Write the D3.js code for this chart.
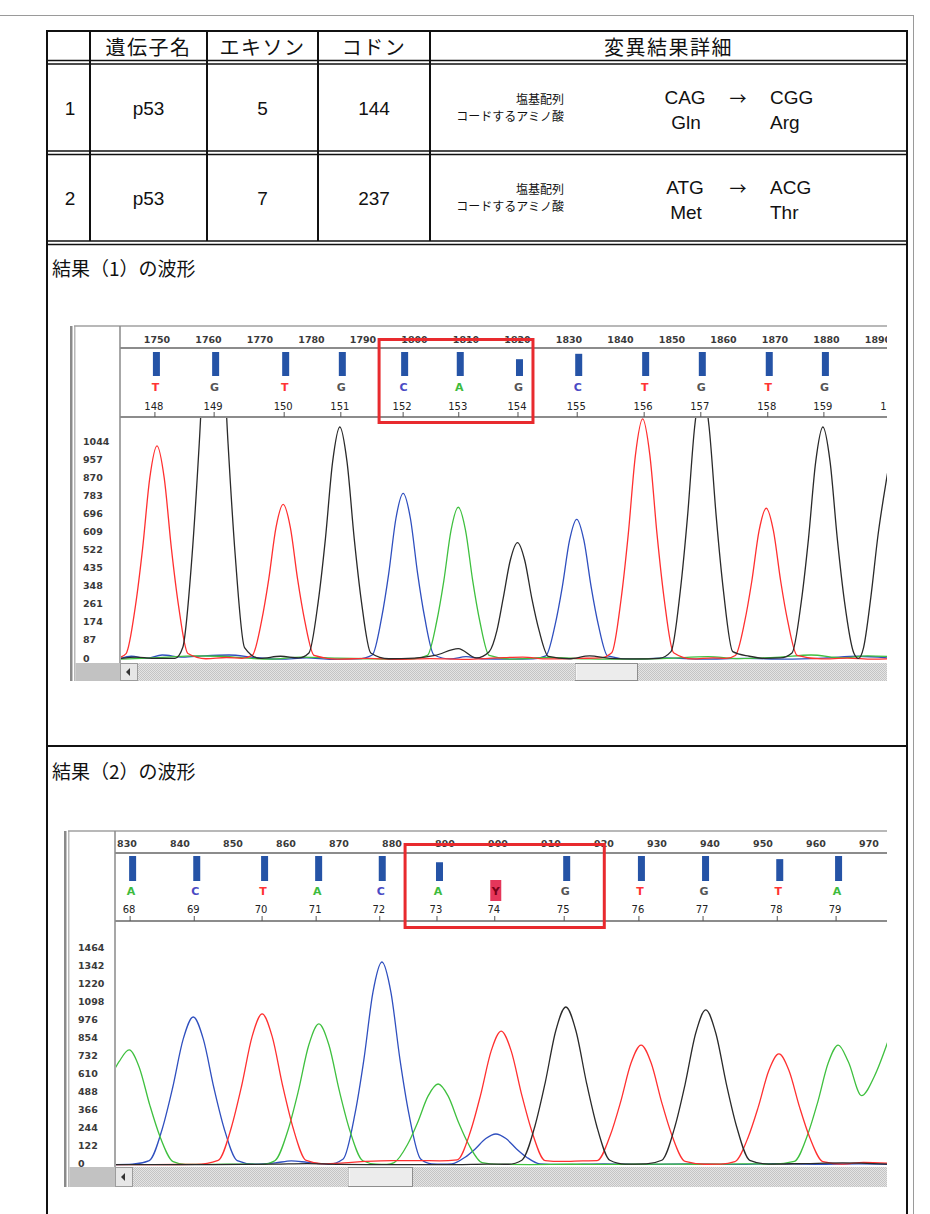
<!DOCTYPE html>
<html>
<head>
<meta charset="utf-8">
<script src="https://cdn.jsdelivr.net/npm/d3@7"></script>
<style>
  html, body { margin: 0; padding: 0; background: #fff; }
  svg { display: block; }
</style>
</head>
<body>
<svg id="sheet" width="930" height="1214"></svg>
<script>
// ---------- table contents ----------
const tableHeaders = ["", "遺伝子名", "エキソン", "コドン", "変異結果詳細"];
const rowNumbers = ["1", "2"];
const geneNames = ["p53", "p53"];
const exonNumbers = ["5", "7"];
const codonNumbers = ["144", "237"];
const baseBefore = ["CAG", "ATG"];
const baseAfter = ["CGG", "ACG"];
const aminoBefore = ["Gln", "Met"];
const aminoAfter = ["Arg", "Thr"];
const detailLabels = ["塩基配列", "コードするアミノ酸"];
const sectionTitles = ["結果（1）の波形", "結果（2）の波形"];

// ---------- chromatogram 1 (codons 148-160) ----------
const scanTicks1 = [1750, 1760, 1770, 1780, 1790, 1800, 1810, 1820, 1830, 1840, 1850, 1860, 1870, 1880, 1890];
const intensityTicks1 = [0, 87, 174, 261, 348, 435, 522, 609, 696, 783, 870, 957, 1044];
const baseNumbers1 = [148, 149, 150, 151, 152, 153, 154, 155, 156, 157, 158, 159, 160];
const baseLetters1 = ["T", "G", "T", "G", "C", "A", "G", "C", "T", "G", "T", "G", ""];
const baseScans1 = [1749.4, 1760.9, 1774.5, 1785.5, 1797.6, 1808.4, 1819.9, 1831.4, 1844.4, 1855.4, 1868.4, 1879.3, 1892.3];
const baseQuality1 = [40, 40, 40, 40, 40, 40, 28, 37, 40, 40, 40, 40, 0];
const marked1 = [152, 154];

const traceT1 = [
  [1742.5, 10], [1744, 31], [1745.8, 258], [1747.2, 536], [1748.6, 876], [1750, 1030], [1751.4, 876], [1752.8, 536], [1754.2, 258], [1756, 31],
  [1759.5, 6], [1763.5, 12], [1766.5, 8],
  [1768.5, 22], [1770.3, 187], [1771.7, 389], [1773.1, 637], [1774.5, 749], [1775.9, 637], [1777.3, 389], [1778.7, 187], [1780.5, 22],
  [1785, 4], [1791, 8], [1797, 3], [1803, 7], [1810, 3], [1816, 10], [1821, 14], [1826, 5], [1832, 8], [1836, 10],
  [1838.3, 35], [1840.1, 290], [1841.5, 603], [1842.9, 986], [1844.3, 1160], [1845.7, 986], [1847.1, 603], [1848.5, 290], [1850.3, 35],
  [1854, 5], [1858, 10], [1860.5, 8],
  [1862.3, 22], [1864.1, 183], [1865.5, 380], [1866.9, 621], [1868.3, 730], [1869.7, 621], [1871.1, 380], [1872.5, 183], [1874.3, 22],
  [1879, 5], [1884, 9], [1889, 4], [1893, 6]
];
const traceG1 = [
  [1742.5, 6], [1746, 14], [1749, 8], [1753.5, 8],
  [1755, 60], [1756.8, 500], [1758.2, 1040], [1759.6, 1700], [1761, 2000], [1762.4, 1700], [1763.8, 1040], [1765.2, 500], [1767, 60],
  [1770, 8], [1774, 18], [1777.5, 10],
  [1779.5, 34], [1781.3, 280], [1782.7, 583], [1784.1, 953], [1785.5, 1121], [1786.9, 953], [1788.3, 583], [1789.7, 280], [1791.5, 34],
  [1795, 6], [1800, 9], [1804, 22], [1808.5, 55], [1812, 10],
  [1814.5, 40], [1816, 141], [1817.2, 294], [1818.6, 480], [1820, 565], [1821.4, 480], [1822.8, 294], [1824.2, 141], [1826, 17],
  [1830, 6], [1834, 20], [1838, 8], [1843, 5], [1847.5, 8],
  [1849.8, 40], [1851.6, 330], [1853, 686], [1854.4, 1122], [1855.8, 1320], [1857.2, 1122], [1858.6, 686], [1860, 330], [1861.8, 40],
  [1865, 18], [1868, 8], [1871, 10],
  [1873.3, 34], [1875.1, 280], [1876.5, 583], [1877.9, 953], [1879.3, 1121], [1880.7, 953], [1882.1, 583], [1883.5, 280], [1885.3, 34],
  [1886.2, 8], [1887.2, 60], [1888.6, 300], [1890, 600], [1891.7, 876], [1893.5, 1130]
];
const traceC1 = [
  [1742.5, 4], [1745, 18], [1748, 8], [1751, 24], [1755, 14], [1759, 20], [1764, 24], [1769, 12], [1774, 4], [1779, 10], [1784, 3], [1789, 5],
  [1791.8, 24], [1793.6, 201], [1795, 417], [1796.4, 682], [1797.8, 802], [1799.2, 682], [1800.6, 417], [1802, 201], [1803.8, 24],
  [1807, 5], [1810, 16], [1813, 6], [1819, 4], [1823, 6],
  [1825.5, 20], [1827.3, 169], [1828.7, 352], [1830.1, 575], [1831.5, 677], [1832.9, 575], [1834.3, 352], [1835.7, 169], [1837.5, 20],
  [1842, 4], [1849, 10], [1856, 4], [1864, 8], [1872, 4], [1880, 10], [1886, 18], [1893, 8]
];
const traceA1 = [
  [1742.5, 4], [1747, 8], [1752, 14], [1757, 20], [1762, 18], [1767, 10], [1772, 4], [1778, 14], [1785, 9], [1791, 6], [1797, 4], [1800, 6],
  [1802.5, 22], [1804.3, 184], [1805.7, 382], [1807.1, 625], [1808.5, 735], [1809.9, 625], [1811.3, 382], [1812.7, 184], [1814.5, 22],
  [1819, 4], [1826, 12], [1834, 5], [1842, 4], [1849, 8], [1857, 16], [1863, 7], [1871, 14], [1877, 24], [1883, 10], [1888, 20], [1893, 16]
];

// ---------- chromatogram 2 (codons 68-79) ----------
const scanTicks2 = [830, 840, 850, 860, 870, 880, 890, 900, 910, 920, 930, 940, 950, 960, 970];
const intensityTicks2 = [0, 122, 244, 366, 488, 610, 732, 854, 976, 1098, 1220, 1342, 1464];
const baseNumbers2 = [68, 69, 70, 71, 72, 73, 74, 75, 76, 77, 78, 79];
const baseLetters2 = ["A", "C", "T", "A", "C", "A", "Y", "G", "T", "G", "T", "A"];
const baseScans2 = [830.4, 842.5, 855.3, 865.5, 877.5, 888.3, 899.2, 912.3, 926.4, 938.5, 952.5, 963.6];
const baseQuality2 = [40, 40, 40, 40, 40, 30, 0, 40, 40, 40, 35, 40];
const marked2 = [73, 75];

const traceA2 = [
  [827.5, 640], [828.5, 700], [830.4, 780], [832.3, 663], [834.3, 406], [836.2, 195], [838.7, 23], [841, 4],
  [846, 4], [852, 6], [855.5, 4],
  [857.9, 29], [860.4, 239], [862.3, 497], [864.3, 813], [866.2, 956], [868.1, 813], [870.1, 497], [872, 239], [874.5, 29],
  [877, 6], [879, 4],
  [880.4, 16], [882.9, 137], [884.8, 285], [886.8, 467], [888.7, 549], [890.6, 467], [892.6, 285], [894.5, 137], [897, 16],
  [900, 4], [906, 3], [914, 5], [922, 4], [930, 6], [938, 5], [946, 8], [952, 6],
  [955.9, 24], [958.4, 203], [960.3, 423], [962.3, 691], [964.2, 813], [966.1, 700], [968.6, 470], [971, 600], [973.5, 830]
];
const traceC2 = [
  [827.5, 3], [831, 6],
  [834.2, 30], [836.7, 251], [838.6, 522], [840.6, 853], [842.5, 1003], [844.4, 853], [846.4, 522], [848.3, 251], [850.8, 30],
  [854, 5], [858, 14], [861, 28], [864, 18], [868, 5],
  [870.8, 41], [873, 344], [874.7, 716], [876.4, 1170], [878.1, 1376], [879.8, 1170], [881.5, 716], [883.2, 344], [885.4, 41],
  [887.5, 8], [889.5, 6],
  [891.3, 8], [893.8, 53], [895.7, 109], [897.7, 179], [899.6, 210], [901.5, 179], [903.5, 109], [905.4, 53], [907.9, 8],
  [912, 4], [920, 8], [928, 4], [936, 7], [944, 4], [952, 9], [960, 5], [968, 8], [973.5, 5]
];
const traceT2 = [
  [827.5, 3], [835, 3], [843, 4],
  [847.2, 31], [849.7, 256], [851.6, 532], [853.6, 870], [855.5, 1024], [857.4, 870], [859.4, 532], [861.3, 256], [863.8, 31],
  [867, 8], [871, 14], [875, 24], [880, 30], [885, 30], [889, 28],
  [892.3, 35], [894.8, 227], [896.7, 472], [898.7, 772], [900.6, 908], [902.5, 772], [904.5, 472], [906.4, 227], [908.9, 30],
  [912, 24], [916, 28],
  [918.7, 30], [921.2, 203], [923.1, 423], [925.1, 691], [927, 813], [928.9, 691], [930.9, 423], [932.8, 203], [935.3, 24],
  [939, 5], [942, 6],
  [944.7, 23], [947.2, 188], [949.1, 392], [951.1, 640], [953, 753], [954.9, 640], [956.9, 392], [958.8, 188], [961.3, 23],
  [965, 6], [969, 18], [973.5, 12]
];
const traceG2 = [
  [827.5, 2], [845, 2], [852, 4], [858, 6], [864, 10], [870, 4], [880, 3], [892, 3], [898, 6], [902, 5],
  [904.5, 32], [907, 268], [908.9, 557], [910.9, 910], [912.8, 1071], [914.7, 910], [916.7, 557], [918.6, 268], [921.1, 32],
  [924, 6], [928, 8],
  [930.9, 32], [933.4, 263], [935.3, 547], [937.3, 893], [939.2, 1051], [941.1, 893], [943.1, 547], [945, 263], [947.5, 32],
  [951, 6], [958, 10], [965, 14], [973.5, 6]
];

// ---------- styles ----------
const JP = "'Noto Sans CJK JP', sans-serif";
const LATIN = "'Liberation Sans', Arial, 'Noto Sans CJK JP', sans-serif";
const SMALL = "'DejaVu Sans', sans-serif";
const baseColor = { A: "#3dbb3d", C: "#4a4ac4", G: "#555555", T: "#ff3434", Y: "#7a0018" };
const traceColor = { A: "#3fc03f", C: "#2f4fbf", G: "#2a2a2a", T: "#ff3030" };

const svg = d3.select("#sheet");
const defs = svg.append("defs");

// checkered fill for the scroll tracks
const pat = defs.append("pattern").attr("id", "track").attr("width", 2).attr("height", 2)
  .attr("patternUnits", "userSpaceOnUse");
pat.append("rect").attr("width", 2).attr("height", 2).attr("fill", "#e4e4e4");
pat.append("rect").attr("width", 1).attr("height", 1).attr("fill", "#c4c4c4");
pat.append("rect").attr("x", 1).attr("y", 1).attr("width", 1).attr("height", 1).attr("fill", "#c4c4c4");

// ---------- page frame ----------
svg.append("line").attr("x1", 0).attr("x2", 914).attr("y1", 15.5).attr("y2", 15.5)
  .attr("stroke", "#9a9a9a").attr("stroke-width", 1);
svg.append("line").attr("x1", 913.5).attr("x2", 913.5).attr("y1", 15).attr("y2", 1214)
  .attr("stroke", "#9a9a9a").attr("stroke-width", 1);

// ---------- table ----------
const tbl = {
  left: 47, right: 907, top: 31,
  colEdges: [47, 90, 207, 318, 430, 907],
  headerY: 46,
  doubleLines: [[60.5, 64], [151, 154.5], [241, 244.5]],
  rowCenters: [108, 198],
  sectionLine: 746,
  titleY: [267, 770],
  bottom: 1214
};
const tg = svg.append("g");
const ink = "#111";
tg.append("line").attr("x1", tbl.left - 1).attr("x2", tbl.right + 1).attr("y1", tbl.top).attr("y2", tbl.top)
  .attr("stroke", ink).attr("stroke-width", 2);
tbl.doubleLines.forEach(pair => pair.forEach(yy => {
  tg.append("line").attr("x1", tbl.left).attr("x2", tbl.right).attr("y1", yy).attr("y2", yy)
    .attr("stroke", ink).attr("stroke-width", 1.7);
}));
tg.append("line").attr("x1", tbl.left).attr("x2", tbl.right).attr("y1", tbl.sectionLine).attr("y2", tbl.sectionLine)
  .attr("stroke", ink).attr("stroke-width", 2);
tbl.colEdges.forEach((cx, i) => {
  const outer = i === 0 || i === tbl.colEdges.length - 1;
  tg.append("line").attr("x1", cx).attr("x2", cx).attr("y1", tbl.top - 1)
    .attr("y2", outer ? tbl.bottom : tbl.doubleLines[2][0])
    .attr("stroke", ink).attr("stroke-width", 2);
});
const colMid = i => (tbl.colEdges[i] + tbl.colEdges[i + 1]) / 2;

tg.selectAll("text.hdr").data(tableHeaders).join("text")
  .attr("x", (d, i) => colMid(i)).attr("y", tbl.headerY)
  .attr("text-anchor", "middle").attr("dominant-baseline", "central")
  .attr("font-family", JP).attr("font-size", 20).attr("letter-spacing", 1.5).attr("fill", ink)
  .text(d => d);

const rowCols = [rowNumbers, geneNames, exonNumbers, codonNumbers];
rowCols.forEach((col, ci) => {
  tg.selectAll(null).data(col).join("text")
    .attr("x", ci === 0 ? 70 : colMid(ci)).attr("y", (d, i) => tbl.rowCenters[i])
    .attr("text-anchor", "middle").attr("dominant-baseline", "central")
    .attr("font-family", LATIN).attr("font-size", 19).attr("fill", ink)
    .text(d => d);
});

tbl.rowCenters.forEach((cy, i) => {
  detailLabels.forEach((lab, k) => {
    tg.append("text").attr("x", 564).attr("y", cy + (k === 0 ? -9.5 : 7.5))
      .attr("text-anchor", "end").attr("dominant-baseline", "central")
      .attr("font-family", JP).attr("font-size", 12).attr("fill", ink).text(lab);
  });
  const top = cy - 11, bot = cy + 14.5;
  tg.append("text").attr("x", 685).attr("y", top).attr("text-anchor", "middle").attr("dominant-baseline", "central")
    .attr("font-family", LATIN).attr("font-size", 19).attr("fill", ink).text(baseBefore[i]);
  tg.append("text").attr("x", 738).attr("y", top).attr("text-anchor", "middle").attr("dominant-baseline", "central")
    .attr("font-family", JP).attr("font-size", 17).attr("fill", ink).text("→");
  tg.append("text").attr("x", 770).attr("y", top).attr("text-anchor", "start").attr("dominant-baseline", "central")
    .attr("font-family", LATIN).attr("font-size", 19).attr("fill", ink).text(baseAfter[i]);
  tg.append("text").attr("x", 686).attr("y", bot).attr("text-anchor", "middle").attr("dominant-baseline", "central")
    .attr("font-family", LATIN).attr("font-size", 19).attr("fill", ink).text(aminoBefore[i]);
  tg.append("text").attr("x", 770).attr("y", bot).attr("text-anchor", "start").attr("dominant-baseline", "central")
    .attr("font-family", LATIN).attr("font-size", 19).attr("fill", ink).text(aminoAfter[i]);
});

sectionTitles.forEach((t, i) => {
  tg.append("text").attr("x", 52).attr("y", tbl.titleY[i]).attr("dominant-baseline", "central")
    .attr("font-family", JP).attr("font-size", 19).attr("fill", ink).text(t);
});

// ---------- chromatogram panels ----------
function drawPanel(id, cfg) {
  const g = svg.append("g");
  const last = a => a[a.length - 1];
  const x = d3.scaleLinear().domain([cfg.scanTicks[0], last(cfg.scanTicks)]).range(cfg.scanRange);
  const y = d3.scaleLinear().domain([0, last(cfg.yTicks)]).range([cfg.baseline, cfg.yTop]);
  const barH = d3.scaleLinear().domain([0, 40]).range([0, cfg.barMax]);
  const L = cfg.frameLeft, D = cfg.divider, R = cfg.right;

  // clip regions
  defs.append("clipPath").attr("id", id + "-hdr").append("rect")
    .attr("x", D + 1).attr("y", cfg.top).attr("width", R - D - 1).attr("height", cfg.headerBottom - cfg.top);
  defs.append("clipPath").attr("id", id + "-plot").append("rect")
    .attr("x", D + 1).attr("y", cfg.headerBottom + 1).attr("width", R - D - 1).attr("height", cfg.scrollTop - cfg.headerBottom - 1);

  // window frame
  g.append("rect").attr("x", L).attr("y", cfg.top).attr("width", 2.5).attr("height", cfg.scrollBottom - cfg.top).attr("fill", "#8a8a8a");
  g.append("rect").attr("x", L + 4).attr("y", cfg.top).attr("width", 1.5).attr("height", cfg.scrollBottom - cfg.top).attr("fill", "#b8b8b8");
  g.append("line").attr("x1", L + 4).attr("x2", R).attr("y1", cfg.top).attr("y2", cfg.top).attr("stroke", "#a0a0a0").attr("stroke-width", 1.5);
  g.append("line").attr("x1", D).attr("x2", D).attr("y1", cfg.top).attr("y2", cfg.scrollTop).attr("stroke", "#8a8a8a").attr("stroke-width", 1.5);
  [cfg.scaleLine, cfg.headerBottom].forEach(yy => {
    g.append("line").attr("x1", D).attr("x2", R).attr("y1", yy).attr("y2", yy).attr("stroke", "#8c8c8c").attr("stroke-width", 2);
  });

  // scan ruler and base calls
  const hdr = g.append("g").attr("clip-path", `url(#${id}-hdr)`);
  hdr.selectAll("text.scan").data(cfg.scanTicks).join("text")
    .attr("x", d => x(d)).attr("y", cfg.scaleY)
    .attr("text-anchor", "middle").attr("dominant-baseline", "central")
    .attr("font-family", SMALL).attr("font-size", 9.5).attr("font-weight", "bold").attr("fill", "#3a3a3a").text(d => d);

  const calls = cfg.baseScans.map((s, i) => ({ s, n: cfg.baseNumbers[i], b: cfg.baseLetters[i], q: cfg.quality[i] }));
  hdr.selectAll("rect.bar").data(calls.filter(d => d.q > 0)).join("rect")
    .attr("x", d => x(d.s) + cfg.barShift - 3.5).attr("width", 7)
    .attr("y", d => cfg.barBottom - barH(d.q)).attr("height", d => barH(d.q))
    .attr("fill", "#2553a6");
  hdr.selectAll("rect.amb").data(calls.filter(d => d.b === "Y")).join("rect")
    .attr("x", d => x(d.s) + cfg.letterShift - 5.5).attr("y", cfg.letterY - 11)
    .attr("width", 11).attr("height", 21).attr("fill", "#e5365a");
  hdr.selectAll("text.base").data(calls).join("text")
    .attr("x", d => x(d.s) + cfg.letterShift).attr("y", cfg.letterY)
    .attr("text-anchor", "middle").attr("dominant-baseline", "central")
    .attr("font-family", SMALL).attr("font-size", 11).attr("font-weight", "bold").attr("fill", d => baseColor[d.b] || "#555")
    .text(d => d.b);
  hdr.selectAll("text.num").data(calls).join("text")
    .attr("x", d => x(d.s)).attr("y", cfg.numberY)
    .attr("text-anchor", "middle").attr("dominant-baseline", "central")
    .attr("font-family", SMALL).attr("font-size", 10).attr("fill", "#222").text(d => d.n);
  hdr.selectAll("line.tick").data(calls).join("line")
    .attr("x1", d => x(d.s) + 1).attr("x2", d => x(d.s) + 1)
    .attr("y1", cfg.headerBottom - 5).attr("y2", cfg.headerBottom)
    .attr("stroke", "#555").attr("stroke-width", 1);

  // intensity labels
  g.selectAll("text.yl").data(cfg.yTicks).join("text")
    .attr("x", cfg.labelX).attr("y", d => y(d) - 2)
    .attr("dominant-baseline", "central")
    .attr("font-family", SMALL).attr("font-size", 9.5).attr("font-weight", "bold").attr("fill", "#3a3a3a").text(d => d);

  // traces
  const line = d3.line().x(d => x(d[0])).y(d => y(d[1])).curve(d3.curveMonotoneX);
  const plot = g.append("g").attr("clip-path", `url(#${id}-plot)`);
  cfg.traces.forEach(t => {
    plot.append("path").attr("d", line(t.points)).attr("fill", "none")
      .attr("stroke", traceColor[t.base]).attr("stroke-width", 1.3).attr("stroke-linejoin", "round");
  });

  // scroll bar
  g.append("rect").attr("x", L + 5.5).attr("y", cfg.scrollTop).attr("width", D - L - 5.5).attr("height", cfg.scrollBottom - cfg.scrollTop).attr("fill", "#c2c2c2");
  g.append("rect").attr("x", D).attr("y", cfg.scrollTop).attr("width", R - D).attr("height", cfg.scrollBottom - cfg.scrollTop).attr("fill", "url(#track)");
  g.append("rect").attr("x", D + 0.5).attr("y", cfg.scrollTop + 0.5).attr("width", 17).attr("height", cfg.scrollBottom - cfg.scrollTop - 1)
    .attr("fill", "#e6e6e6").attr("stroke", "#9c9c9c");
  const cy = (cfg.scrollTop + cfg.scrollBottom) / 2;
  g.append("path").attr("d", `M${D + 6},${cy} L${D + 10},${cy - 4} L${D + 10},${cy + 4} Z`).attr("fill", "#333");
  g.append("rect").attr("x", cfg.thumb[0] + 0.5).attr("y", cfg.scrollTop + 0.5).attr("width", cfg.thumb[1] - cfg.thumb[0]).attr("height", cfg.scrollBottom - cfg.scrollTop - 1)
    .attr("fill", "#ececec").attr("stroke", "#8e8e8e");
  g.append("line").attr("x1", cfg.thumb[0] + 1).attr("x2", cfg.thumb[0] + 1).attr("y1", cfg.scrollTop + 1).attr("y2", cfg.scrollBottom - 1).attr("stroke", "#fff");

  // mutation box around the marked codon
  const i0 = cfg.baseNumbers.indexOf(cfg.marked[0]);
  const i1 = cfg.baseNumbers.indexOf(cfg.marked[1]);
  const xs = cfg.baseScans.map(s => x(s));
  const xl = xs[i0] - (xs[i0] - xs[i0 - 1]) * cfg.boxPad[0];
  const xr = xs[i1] + (xs[i1 + 1] - xs[i1]) * cfg.boxPad[1];
  g.append("rect").attr("x", xl).attr("y", cfg.boxY[0]).attr("width", xr - xl).attr("height", cfg.boxY[1] - cfg.boxY[0])
    .attr("fill", "none").attr("stroke", "#e82a2e").attr("stroke-width", 3);
}

drawPanel("p1", {
  scanTicks: scanTicks1, scanRange: [157, 878], yTicks: intensityTicks1,
  baseNumbers: baseNumbers1, baseLetters: baseLetters1, baseScans: baseScans1, quality: baseQuality1,
  marked: marked1, boxPad: [0.37, 0.27], boxY: [339.5, 422.5],
  traces: [{ base: "C", points: traceC1 }, { base: "A", points: traceA1 }, { base: "T", points: traceT1 }, { base: "G", points: traceG1 }],
  frameLeft: 70, divider: 120, right: 887, top: 326,
  scaleY: 339, scaleLine: 348, barBottom: 376, barMax: 24, barShift: 2.5, letterY: 387, letterShift: 1.5, numberY: 406,
  headerBottom: 417, baseline: 660, yTop: 443, labelX: 83,
  scrollTop: 663, scrollBottom: 681, thumb: [575, 637]
});

drawPanel("p2", {
  scanTicks: scanTicks2, scanRange: [127, 869], yTicks: intensityTicks2,
  baseNumbers: baseNumbers2, baseLetters: baseLetters2, baseScans: baseScans2, quality: baseQuality2,
  marked: marked2, boxPad: [0.54, 0.55], boxY: [844.5, 927.5],
  traces: [{ base: "C", points: traceC2 }, { base: "A", points: traceA2 }, { base: "T", points: traceT2 }, { base: "G", points: traceG2 }],
  frameLeft: 64, divider: 115, right: 887, top: 831,
  scaleY: 843, scaleLine: 853, barBottom: 881, barMax: 25, barShift: 3.5, letterY: 891, letterShift: 2, numberY: 909,
  headerBottom: 921, baseline: 1165, yTop: 949, labelX: 78,
  scrollTop: 1167, scrollBottom: 1187, thumb: [348, 412]
});
</script>
</body>
</html>
